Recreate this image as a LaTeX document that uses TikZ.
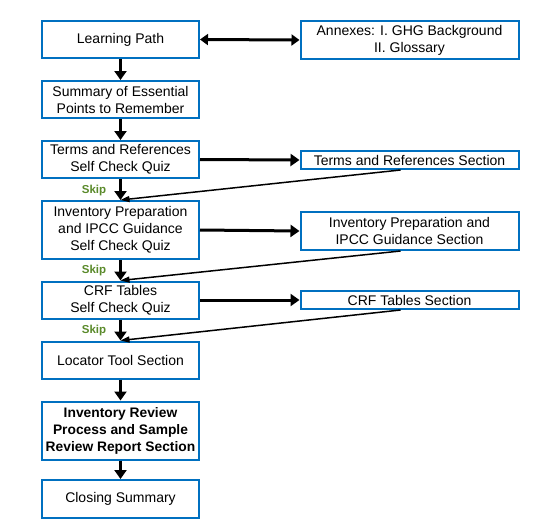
\documentclass[tikz,border=0pt]{standalone}
\usepackage{fontspec}
\setmainfont{Liberation Sans}
\usetikzlibrary{arrows.meta}
\definecolor{boxblue}{HTML}{0070C0}
\definecolor{skipgreen}{HTML}{5A8A2A}

\begin{document}
\begin{tikzpicture}[x=1pt,y=-1pt,
	box/.style={draw=boxblue, line width=2pt, align=center, inner sep=0pt, font=\fontsize{14}{17}\selectfont},
	leftbox/.style={box, minimum width=157pt},
	rightbox/.style={box, minimum width=218pt},
	flow/.style={line width=3pt, -{Triangle[width=12pt,length=9pt]}},
	link/.style={line width=3pt, {Triangle[width=11pt,length=8pt]}-{Triangle[width=11pt,length=8pt]}},
	skipline/.style={line width=1.5pt, -{Triangle[width=6pt,length=9pt]}},
	skip/.style={text=skipgreen, font=\fontsize{11.5}{13}\selectfont\bfseries}]
	\useasboundingbox (0,0) rectangle (539,520);
	
	% left column
	\node[leftbox, minimum height=37pt] (path) at (120.5,39.5) {Learning Path};
	\node[leftbox, minimum height=37pt] (summary) at (120.5,99.5) {Summary of Essential\\Points to Remember};
	\node[leftbox, minimum height=37pt] (termsquiz) at (120.5,159.5) {Terms and References\\Self Check Quiz};
	\node[leftbox, minimum height=58pt] (invquiz) at (120.5,230) {Inventory Preparation\\and IPCC Guidance\\Self Check Quiz};
	\node[leftbox, minimum height=37pt] (crfquiz) at (120.5,300) {CRF Tables\\Self Check Quiz};
	\node[leftbox, minimum height=37pt] (locator) at (120.5,360) {Locator Tool Section};
	\node[leftbox, minimum height=58pt, font=\fontsize{13.8}{17}\selectfont\bfseries] (review) at (120.5,430.5) {Inventory Review\\Process and Sample\\Review Report Section};
	\node[leftbox, minimum height=38pt] (closing) at (120.5,499) {Closing Summary};
	
	% right column
	\node[rightbox, minimum height=38pt] (annex) at (409.5,40) {Annexes: I. GHG Background\\II. Glossary};
	\node[rightbox, minimum height=18pt] (termssec) at (409.5,160) {Terms and References Section};
	\node[rightbox, minimum height=38pt] (invsec) at (409.5,231) {Inventory Preparation and\\IPCC Guidance Section};
	\node[rightbox, minimum height=18pt] (crfsec) at (409.5,300) {CRF Tables Section};
	
	% skip labels
	\node[skip] (skipa) at (94,191) {Skip};
	\node[skip] (skipb) at (94,271) {Skip};
	\node[skip] (skipc) at (94,331) {Skip};
	
	\foreach \a/\b in {path/summary, summary/termsquiz, termsquiz/invquiz, invquiz/crfquiz, crfquiz/locator, locator/review, review/closing}
	\draw[flow] (\a.south) -- (\b.north);
	
	\draw[link] (path.east) -- (annex.west);
	\foreach \a/\b in {termsquiz/termssec, invquiz/invsec, crfquiz/crfsec}
	\draw[flow] (\a.east) -- (\b.west);
	
	\foreach \a/\b in {termssec/invquiz, invsec/crfquiz, crfsec/locator}
	\draw[skipline] ([xshift=-9pt]\a.south) -- (\b.north);
	\end{tikzpicture}
\end{document}
